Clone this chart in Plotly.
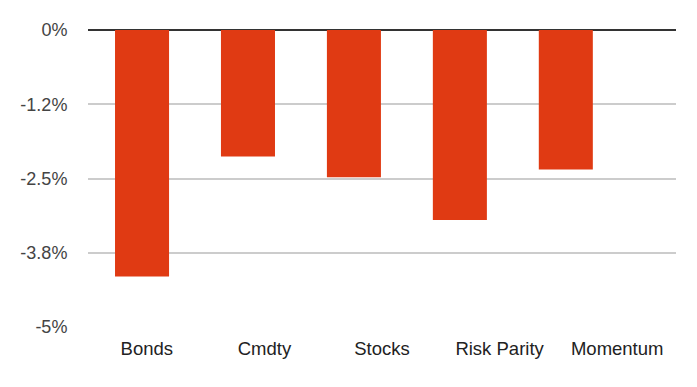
import plotly.graph_objects as go

categories = ["Bonds", "Cmdty", "Stocks", "Risk Parity", "Momentum"]
values = [-4.15, -2.13, -2.48, -3.20, -2.35]
tick_vals = [0, -1.25, -2.5, -3.75, -5]
tick_text = ["0%", "-1.2%", "-2.5%", "-3.8%", "-5%"]

fig = go.Figure()
# bars (positioned on a slightly compressed category axis, like the source)
fig.add_trace(go.Bar(
    x=categories, y=values,
    marker=dict(color="#e03a13", line=dict(width=0)),
    width=0.51, xaxis="x", yaxis="y",
))
# invisible carrier for the evenly spread category labels
fig.add_trace(go.Scatter(
    x=categories, y=values, mode="markers",
    marker=dict(opacity=0), hoverinfo="skip",
    xaxis="x2", yaxis="y",
))

# page body has an 8px default margin, so the figure is offset by 8px
fig.update_layout(
    width=689, height=379,
    margin=dict(l=80, r=21, t=22, b=60, autoexpand=False),
    paper_bgcolor="white", plot_bgcolor="white",
    font=dict(family="Arial, Liberation Sans, sans-serif", size=18, color="#222"),
    showlegend=False,
    xaxis=dict(
        type="category", range=[-0.51, 5.04],
        showgrid=False, showline=False, zeroline=False,
        showticklabels=False,
    ),
    xaxis2=dict(
        type="category", range=[-0.5, 4.5], overlaying="x", side="bottom",
        showgrid=False, showline=False, zeroline=False,
        ticks="outside", ticklen=5, tickcolor="rgba(0,0,0,0)",
        tickfont=dict(size=18.5, color="#222"),
    ),
    yaxis=dict(
        range=[-5, 0], tickvals=tick_vals, ticktext=tick_text,
        showgrid=True, gridcolor="#cccccc", gridwidth=2,
        zeroline=True, zerolinecolor="#333333", zerolinewidth=2,
        showline=False,
        ticks="outside", ticklen=16, tickcolor="rgba(0,0,0,0)",
        tickfont=dict(size=18, color="#444"),
    ),
)

fig.write_html("out.html")
